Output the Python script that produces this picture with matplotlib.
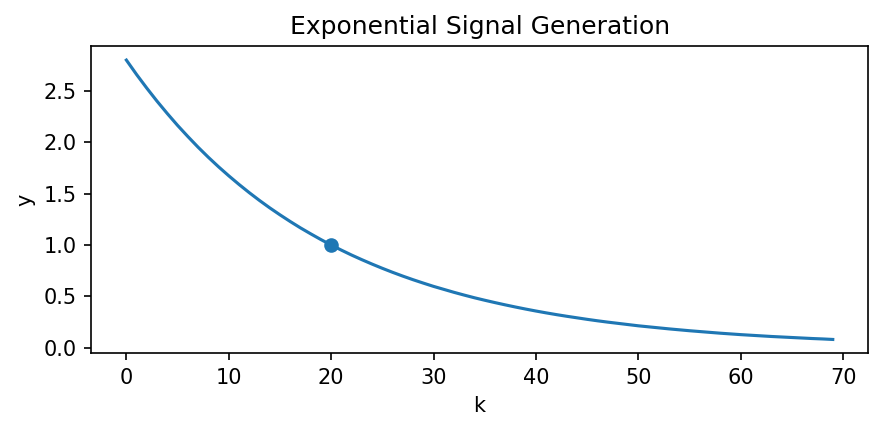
import matplotlib
matplotlib.use("Agg")
import matplotlib.pyplot as plt

# valores
k = list(range(70))
y = [2.801, 2.660, 2.527, 2.400, 2.280, 2.165, 2.057, 1.953, 1.855, 1.762,
     1.674, 1.590, 1.510, 1.434, 1.362, 1.294, 1.229, 1.167, 1.109, 1.053,
     1.000, 0.950, 0.902, 0.857, 0.814, 0.773, 0.734, 0.697, 0.662, 0.629,
     0.597, 0.568, 0.539, 0.512, 0.486, 0.462, 0.439, 0.417, 0.396, 0.376,
     0.357, 0.339, 0.322, 0.306, 0.291, 0.276, 0.262, 0.249, 0.237, 0.225,
     0.213, 0.203, 0.193, 0.183, 0.174, 0.165, 0.157, 0.149, 0.141, 0.134,
     0.127, 0.121, 0.115, 0.109, 0.104, 0.099, 0.094, 0.089, 0.085, 0.080]

# punto marcado
k_mark = [20]
y_mark = [1.0]

fig, ax = plt.subplots(figsize=(884 / 150, 431 / 150), dpi=150)
ax.plot(k, y, color='#1f77b4')
ax.plot(k_mark, y_mark, 'o', color='#1f77b4')
ax.set_title('Exponential Signal Generation')
ax.set_xlabel('k')
ax.set_ylabel('y')

fig.subplots_adjust(left=0.103, right=0.982, top=0.893, bottom=0.18)
plt.savefig('out.png', dpi=150)
